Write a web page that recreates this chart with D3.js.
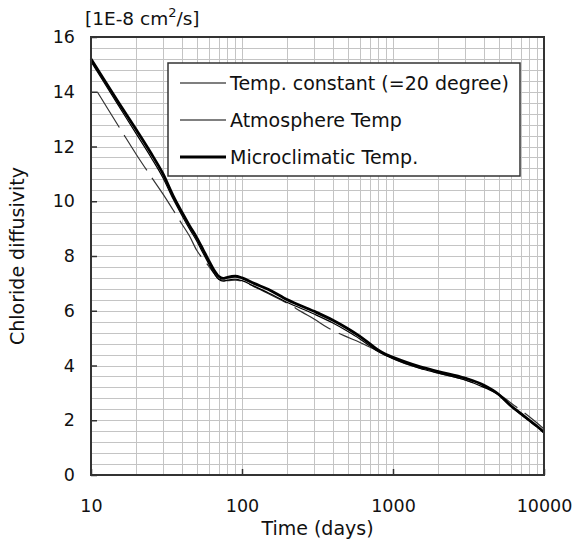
<!DOCTYPE html>
<html>
<head>
<meta charset="utf-8">
<script src="https://cdn.jsdelivr.net/npm/d3@7"></script>
<style>
  body { margin: 0; background: #fff; }
  text { font-family: "DejaVu Sans", Verdana, sans-serif; fill: #111; }
</style>
</head>
<body>
<script>
// --- data ---
var seriesNames = ["Temp. constant (=20 degree)", "Atmosphere Temp", "Microclimatic Temp."];

var constDays = [10, 12, 15, 20, 25, 30, 35, 40, 45, 50, 55, 60, 65, 70, 75, 80, 90, 100, 120, 150, 200, 300, 400, 500, 600, 700, 800, 900, 1000, 1500, 2000, 3000, 4000, 5000, 6000, 7000, 8000, 9000, 10000];
var constVals = [15.1, 14.4, 13.55, 12.45, 11.6, 10.85, 10.08, 9.48, 8.98, 8.56, 8.12, 7.73, 7.38, 7.15, 7.08, 7.12, 7.15, 7.1, 6.9, 6.65, 6.3, 5.88, 5.55, 5.25, 4.98, 4.72, 4.5, 4.36, 4.25, 3.9, 3.72, 3.47, 3.2, 2.92, 2.52, 2.22, 1.97, 1.76, 1.55];

var atmDays = [11, 13, 16, 20, 25, 30, 35, 40, 45, 50, 55, 60, 65, 70, 80, 90, 100, 120, 150, 200, 250, 300, 370, 470, 600, 800, 900, 1000, 1500, 2000, 3000, 4000, 4700, 5500, 6500, 8000, 9000, 10000];
var atmVals = [14.0, 13.35, 12.55, 11.7, 10.9, 10.26, 9.68, 9.17, 8.72, 8.22, 7.9, 7.64, 7.38, 7.16, 7.1, 7.12, 7.08, 6.88, 6.62, 6.27, 5.95, 5.7, 5.38, 5.1, 4.85, 4.52, 4.38, 4.25, 3.9, 3.72, 3.47, 3.22, 3.04, 2.8, 2.5, 2.13, 1.9, 1.68];

var microDays = [10, 12, 15, 20, 25, 30, 35, 40, 45, 50, 55, 60, 65, 70, 75, 80, 90, 100, 120, 150, 200, 300, 400, 500, 600, 700, 800, 900, 1000, 1500, 2000, 3000, 4000, 5000, 6000, 7000, 8000, 9000, 10000];
var microVals = [15.2, 14.5, 13.66, 12.6, 11.75, 11.0, 10.2, 9.6, 9.1, 8.68, 8.25, 7.85, 7.5, 7.26, 7.18, 7.22, 7.26, 7.2, 7.0, 6.78, 6.4, 5.98, 5.65, 5.35, 5.07, 4.8, 4.56, 4.4, 4.3, 3.96, 3.78, 3.54, 3.28, 2.95, 2.54, 2.25, 2.0, 1.78, 1.56];

var xTickVals = [10, 100, 1000, 10000];
var yTickVals = [0, 2, 4, 6, 8, 10, 12, 14, 16];

var margin = {top: 37, right: 29, bottom: 70, left: 91},
    width = 573 - margin.left - margin.right,
    height = 545 - margin.top - margin.bottom;

var x = d3.scaleLog()
    .domain([10, 10000])
    .range([0, width]);

var y = d3.scaleLinear()
    .domain([0, 16])
    .range([height, 0]);

var svg = d3.select("body").append("svg")
    .attr("width", 573)
    .attr("height", 545)
    .append("g")
    .attr("transform", "translate(" + margin.left + "," + margin.top + ")");

// grid
svg.append("g").selectAll("line")
    .data(x.ticks())
    .enter().append("line")
    .attr("x1", function(d) { return Math.round(x(d)) + 0.5; })
    .attr("x2", function(d) { return Math.round(x(d)) + 0.5; })
    .attr("y1", 0)
    .attr("y2", height)
    .attr("stroke", "#c4c4c4")
    .attr("stroke-width", 1);

svg.append("g").selectAll("line")
    .data(d3.range(0, 16.01, 0.4))
    .enter().append("line")
    .attr("x1", 0)
    .attr("x2", width)
    .attr("y1", function(d) { return Math.round(y(d)) + 0.5; })
    .attr("y2", function(d) { return Math.round(y(d)) + 0.5; })
    .attr("stroke", "#c4c4c4")
    .attr("stroke-width", 1);

// curves
var line = d3.line()
    .x(function(d) { return x(d[0]); })
    .y(function(d) { return y(d[1]); })
    .curve(d3.curveMonotoneX);

svg.append("path")
    .datum(d3.zip(atmDays, atmVals))
    .attr("d", line)
    .attr("fill", "none")
    .attr("stroke", "#333")
    .attr("stroke-width", 1.2)
    .attr("stroke-dasharray", "42,9");

svg.append("path")
    .datum(d3.zip(constDays, constVals))
    .attr("d", line)
    .attr("fill", "none")
    .attr("stroke", "#000")
    .attr("stroke-width", 1.2);

svg.append("path")
    .datum(d3.zip(microDays, microVals))
    .attr("d", line)
    .attr("fill", "none")
    .attr("stroke", "#000")
    .attr("stroke-width", 2.8);

// frame
svg.append("rect")
    .attr("width", width)
    .attr("height", height)
    .attr("fill", "none")
    .attr("stroke", "#333")
    .attr("stroke-width", 2);

// axes
var xAxis = d3.axisBottom(x)
    .tickValues(xTickVals)
    .tickFormat(d3.format("d"))
    .tickSizeInner(-6)
    .tickSizeOuter(0)
    .tickPadding(25);

var yAxis = d3.axisLeft(y)
    .tickValues(yTickVals)
    .tickSizeInner(-6)
    .tickSizeOuter(0)
    .tickPadding(16);

svg.append("g")
    .attr("class", "x axis")
    .attr("transform", "translate(0," + height + ")")
    .call(xAxis)
    .call(function(g) { g.select(".domain").remove(); })
    .call(function(g) { g.selectAll("line").attr("stroke", "#333").attr("stroke-width", 1.5); })
    .call(function(g) { g.selectAll("text").style("font-size", "17.5px").attr("fill", "#111"); });

svg.append("g")
    .attr("class", "y axis")
    .call(yAxis)
    .call(function(g) { g.select(".domain").remove(); })
    .call(function(g) { g.selectAll("line").attr("stroke", "#333").attr("stroke-width", 1.5); })
    .call(function(g) { g.selectAll("text").style("font-size", "17.5px").attr("fill", "#111"); });

svg.append("text")
    .attr("x", width / 2)
    .attr("y", height + 60)
    .style("text-anchor", "middle")
    .style("font-size", "19px")
    .text("Time (days)");

svg.append("text")
    .attr("transform", "rotate(-90)")
    .attr("x", -height / 2)
    .attr("y", -67)
    .style("text-anchor", "middle")
    .style("font-size", "19px")
    .text("Chloride diffusivity");

var unit = svg.append("text")
    .attr("x", -6)
    .attr("y", -12)
    .style("font-size", "18.5px");
unit.append("tspan").text("[1E-8 cm");
unit.append("tspan").attr("dy", -8).style("font-size", "13px").text("2");
unit.append("tspan").attr("dy", 8).text("/s]");

// legend
var legend = svg.append("g")
    .attr("transform", "translate(" + (168 - margin.left) + "," + (63 - margin.top) + ")");

legend.append("rect")
    .attr("width", 352)
    .attr("height", 113)
    .attr("fill", "#fff")
    .attr("stroke", "#333")
    .attr("stroke-width", 1.5);

var legendStyle = [
    {stroke: "#000", w: 1.2},
    {stroke: "#808080", w: 2},
    {stroke: "#000", w: 3}
];

var item = legend.selectAll(".legend")
    .data(seriesNames)
    .enter().append("g")
    .attr("class", "legend")
    .attr("transform", function(d, i) { return "translate(0," + (20 + i * 37) + ")"; });

item.append("line")
    .attr("x1", 12)
    .attr("x2", 58)
    .attr("stroke", function(d, i) { return legendStyle[i].stroke; })
    .attr("stroke-width", function(d, i) { return legendStyle[i].w; });

item.append("text")
    .attr("x", 62)
    .attr("dy", ".35em")
    .style("font-size", "19px")
    .text(function(d) { return d; });
</script>
</body>
</html>
